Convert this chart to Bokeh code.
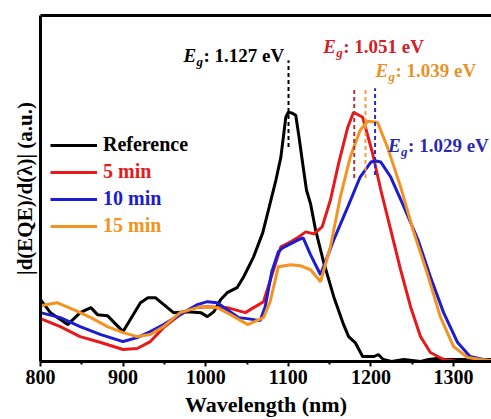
from bokeh.plotting import figure
from bokeh.models import Range1d, LinearAxis, FixedTicker, Label, Legend
from bokeh.embed import file_html
from bokeh.resources import INLINE

# ---------------- data ----------------
wl_ref = [800, 812, 833, 848, 861, 869, 881, 900, 921, 930, 939, 961, 978, 994, 1002, 1010,
          1018, 1026, 1038, 1046, 1058, 1069, 1076, 1085, 1091, 1097, 1100, 1105, 1109, 1113,
          1118, 1122, 1127, 1133, 1143, 1155, 1166, 1173, 1181, 1190, 1196, 1204, 1209, 1215,
          1225, 1240, 1250, 1260, 1270, 1280, 1290, 1300, 1320, 1346]
y_ref = [0.62, 0.49, 0.37, 0.49, 0.54, 0.47, 0.46, 0.30, 0.59, 0.64, 0.64, 0.49, 0.50, 0.49, 0.45, 0.50,
         0.62, 0.69, 0.74, 0.85, 1.05, 1.29, 1.52, 1.82, 2.05, 2.45, 2.50, 2.49, 2.47, 2.25,
         1.95, 1.72, 1.58, 1.32, 0.99, 0.65, 0.39, 0.25, 0.19, 0.05, 0.05, 0.05, 0.07, 0.02,
         0.00, 0.02, 0.01, 0.00, 0.02, 0.03, 0.02, 0.02, 0.02, 0.02]

wl_5 = [800, 824, 848, 873, 900, 917, 933, 949, 969, 985, 1002, 1026, 1048, 1058, 1070, 1081,
        1091, 1103, 1111, 1121, 1131, 1141, 1151, 1161, 1172, 1179, 1190, 1202, 1212, 1224,
        1236, 1248, 1260, 1272, 1288, 1305, 1346]
y_5 = [0.43, 0.35, 0.25, 0.19, 0.12, 0.13, 0.20, 0.34, 0.47, 0.54, 0.55, 0.54, 0.49, 0.54, 0.60, 0.89,
       1.15, 1.20, 1.24, 1.30, 1.28, 1.35, 1.62, 1.99, 2.35, 2.50, 2.45, 2.09, 1.72, 1.32,
       0.92, 0.55, 0.25, 0.09, 0.02, 0.00, 0.00]

wl_10 = [800, 824, 848, 873, 900, 917, 933, 949, 969, 990, 1002, 1014, 1026, 1040, 1050, 1066,
         1072, 1080, 1088, 1093, 1105, 1112, 1118, 1127, 1139, 1155, 1172, 1187, 1200, 1206,
         1212, 1224, 1240, 1257, 1272, 1288, 1305, 1320, 1336, 1346]
y_10 = [0.49, 0.44, 0.35, 0.27, 0.20, 0.24, 0.30, 0.37, 0.47, 0.57, 0.60, 0.59, 0.52, 0.44, 0.43, 0.41,
        0.55, 0.90, 1.10, 1.14, 1.19, 1.22, 1.24, 1.07, 0.87, 1.22, 1.55, 1.85, 2.00, 2.01,
        2.00, 1.85, 1.55, 1.22, 0.85, 0.49, 0.19, 0.05, 0.02, 0.01]

wl_15 = [800, 820, 840, 861, 881, 900, 917, 933, 949, 969, 994, 1014, 1030, 1051, 1070, 1078,
         1088, 1103, 1115, 1127, 1139, 1151, 1163, 1175, 1187, 1196, 1208, 1220, 1236, 1251,
         1268, 1284, 1300, 1317, 1333, 1346]
y_15 = [0.56, 0.59, 0.52, 0.44, 0.35, 0.29, 0.25, 0.27, 0.35, 0.49, 0.55, 0.54, 0.47, 0.37, 0.44, 0.60,
        0.95, 0.97, 0.96, 0.92, 0.80, 1.15, 1.65, 2.05, 2.32, 2.41, 2.40, 2.15, 1.75, 1.32,
        0.89, 0.45, 0.15, 0.04, 0.02, 0.01]

series_names = ["Reference", "5 min", "10 min", "15 min"]
eg_values = [1.127, 1.051, 1.029, 1.039]          # eV, per series
eg_line_top = [3.02, 2.74, 2.74, 2.74]
eg_line_bottom = [2.15, 1.84, 1.87, 1.84]
eg_text_y = [3.07, 3.16, 2.17, 2.92]
eg_text_dx = [-105, -31, 13, 10]                   # screen px offsets from the Eg line

line_colors = ["#000000", "#e8191c", "#1c1cd0", "#f39322"]
text_colors = ["#000000", "#d42028", "#2a2ab0", "#e8922a"]
dash_colors = ["#000000", "#b83038", "#2a2ac8", "#f0a040"]
legend_row_y = [205, 178, 151, 124]

FONT = "Liberation Serif"

p = figure(width=491, height=419, output_backend="svg", toolbar_location=None,
           x_range=Range1d(800, 1346), y_range=Range1d(0, 3.47),
           min_border_left=40, min_border_right=0, min_border_top=15, min_border_bottom=57)
p.outline_line_color = None
p.xgrid.visible = False
p.ygrid.visible = False
p.background_fill_color = "white"
p.border_fill_color = "white"

renderers = []
for wl, yv, c in zip([wl_ref, wl_5, wl_10, wl_15], [y_ref, y_5, y_10, y_15], line_colors):
    renderers.append(p.line(wl, yv, line_color=c, line_width=3))

# Eg dashed markers
eg_wl = [1240.0 / e for e in eg_values]
p.segment(x0=eg_wl, x1=eg_wl, y0=eg_line_bottom, y1=eg_line_top,
          line_color=dash_colors, line_width=2, line_dash="4 3")

for wl, e, ty, dx, tc in zip(eg_wl, eg_values, eg_text_y, eg_text_dx, text_colors):
    p.add_layout(Label(x=wl, y=ty, x_offset=dx, text="E", text_font=FONT,
                       text_font_style="bold italic", text_font_size="19px",
                       text_color=tc, text_baseline="middle", text_align="left"))
    p.add_layout(Label(x=wl, y=ty, x_offset=dx + 13, y_offset=-6, text="g", text_font=FONT,
                       text_font_style="bold italic", text_font_size="13px",
                       text_color=tc, text_baseline="middle", text_align="left"))
    p.add_layout(Label(x=wl, y=ty, x_offset=dx + 20, text=f": {e:.3f} eV", text_font=FONT,
                       text_font_style="bold", text_font_size="19px",
                       text_color=tc, text_baseline="middle", text_align="left"))

# legend: one entry per legend so that each label has its series colour
for name, r, c, ly in zip(series_names, renderers, line_colors, legend_row_y):
    lg = Legend(items=[(name, [r])], location=(10, ly), padding=0, margin=0, spacing=0,
                glyph_width=47, glyph_height=22, label_height=22, label_standoff=6,
                label_text_font=FONT, label_text_font_style="bold", label_text_font_size="20px",
                label_text_color=c, border_line_color=None, background_fill_alpha=0)
    p.add_layout(lg)

# axes
xa = p.xaxis[0]
xa.ticker = FixedTicker(ticks=[800, 900, 1000, 1100, 1200, 1300],
                        minor_ticks=[850, 950, 1050, 1150, 1250])
xa.axis_line_width = 3
xa.axis_line_color = "black"
xa.major_tick_line_width = 2
xa.minor_tick_line_width = 2
xa.major_tick_line_color = "black"
xa.minor_tick_line_color = "black"
xa.major_tick_in = 0
xa.major_tick_out = 5
xa.minor_tick_in = 0
xa.minor_tick_out = 3
xa.major_label_standoff = 3
xa.major_label_text_font = FONT
xa.major_label_text_font_style = "bold"
xa.major_label_text_font_size = "20px"
xa.major_label_text_color = "black"
xa.axis_label = "Wavelength (nm)"
xa.axis_label_text_font = FONT
xa.axis_label_text_font_style = "bold"
xa.axis_label_text_font_size = "22px"
xa.axis_label_text_color = "black"
xa.axis_label_standoff = 5

ya = p.yaxis[0]
ya.ticker = FixedTicker(ticks=[])
ya.axis_line_width = 3
ya.axis_line_color = "black"
ya.major_tick_line_color = None
ya.minor_tick_line_color = None
ya.axis_label = "|d(EQE)/d(λ)| (a.u.)"
ya.axis_label_text_font = FONT
ya.axis_label_text_font_style = "bold"
ya.axis_label_text_font_size = "21px"
ya.axis_label_text_color = "black"
ya.axis_label_standoff = 4

top = LinearAxis(ticker=FixedTicker(ticks=[]), axis_line_width=3, axis_line_color="black",
                 major_tick_line_color=None, minor_tick_line_color=None)
p.add_layout(top, "above")

open("out.html", "w").write(file_html(p, INLINE))
